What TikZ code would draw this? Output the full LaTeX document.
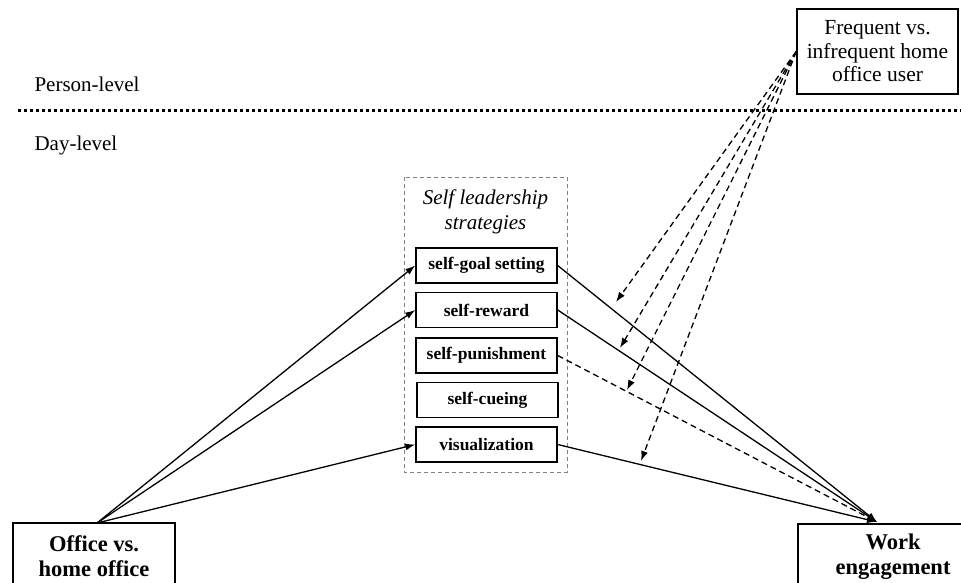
\documentclass[tikz,border=0pt]{standalone}
\usepackage{fontspec}
\setmainfont{Liberation Serif}
\usetikzlibrary{arrows.meta}
\begin{document}
\begin{tikzpicture}[x=1pt,y=-1pt,
  tip/.style={-{Latex[length=10pt,width=7pt]}},
  lvl/.style={anchor=west,font=\fontsize{21}{23}\selectfont},
  varbox/.style={draw,line width=1.6pt,align=center,inner sep=0pt},
  strat/.style={draw,line width=1.4pt,minimum width=141pt,minimum height=35pt,
    inner sep=0pt,font=\fontsize{17.5}{20}\selectfont\bfseries},
  path/.style={line width=1.3pt,tip},
  modpath/.style={line width=1.3pt,dash pattern=on 6pt off 4pt,tip},
  mediator/.style={line width=1.3pt,tip},
  nulled/.style={line width=1.3pt,dash pattern=on 6pt off 4pt,tip}]
\useasboundingbox (0,0) rectangle (961,583);

% level labels and separator
\node[lvl] (person) at (31,84) {Person-level};
\node[lvl] (day) at (31,145) {Day-level};
\coordinate (sepL) at (18,111);
\coordinate (sepR) at (961,111);
\draw[line width=3pt,dash pattern=on 3pt off 3pt] (sepL) -- (sepR);

% moderator
\node[varbox,minimum width=161pt,minimum height=85pt,
  font=\fontsize{21.5}{23.5}\selectfont] (freq) at (877.5,51.5)
  {\raisebox{-2pt}{\parbox{150pt}{\centering Frequent vs.\\infrequent home\\office user}}};

% group of strategies
\draw[gray,line width=0.8pt,dash pattern=on 4pt off 3pt] (404,177) rectangle (567,472);
\node[font=\fontsize{21}{25}\selectfont\itshape,align=center] (title) at (485.5,212)
  {Self leadership\\strategies};
\node[strat] (goal) at (486.5,265.5) {self-goal setting};
\node[strat] (reward) at (486.5,310) {self-reward};
\node[strat] (punish) at (486.5,355.5) {self-punishment};
\node[strat] (cue) at (487.5,400) {self-cueing};
\node[strat] (vis) at (486.5,444.5) {visualization};

% predictor and outcome
\node[varbox,minimum width=162pt,minimum height=66pt,
  font=\fontsize{22.5}{25}\selectfont\bfseries] (office) at (94,556)
  {Office vs.\\home office};
\node[varbox,minimum width=190pt,minimum height=66pt,
  font=\fontsize{22.5}{25}\selectfont\bfseries] (work) at (893,557)
  {Work\\engagement};
\coordinate (src) at (97,523);
\coordinate (dst) at (877,522);

% a paths
\draw[path] (src) -- (goal.west);
\draw[path] (src) -- (reward.west);
\draw[path] (src) -- (vis.west);

% b paths
\draw[mediator] (goal.east) -- (dst);
\draw[mediator] (reward.east) -- (dst);
\draw[nulled] (punish.east) -- (dst);
\draw[mediator] (vis.east) -- (dst);

% cross-level moderation
\coordinate (m1) at (616,302);
\coordinate (m2) at (620,348);
\coordinate (m3) at (627,390);
\coordinate (m4) at (641,461);
\draw[modpath] (freq.west) -- (m1);
\draw[modpath] (freq.west) -- (m2);
\draw[modpath] (freq.west) -- (m3);
\draw[modpath] (freq.west) -- (m4);
\end{tikzpicture}
\end{document}
